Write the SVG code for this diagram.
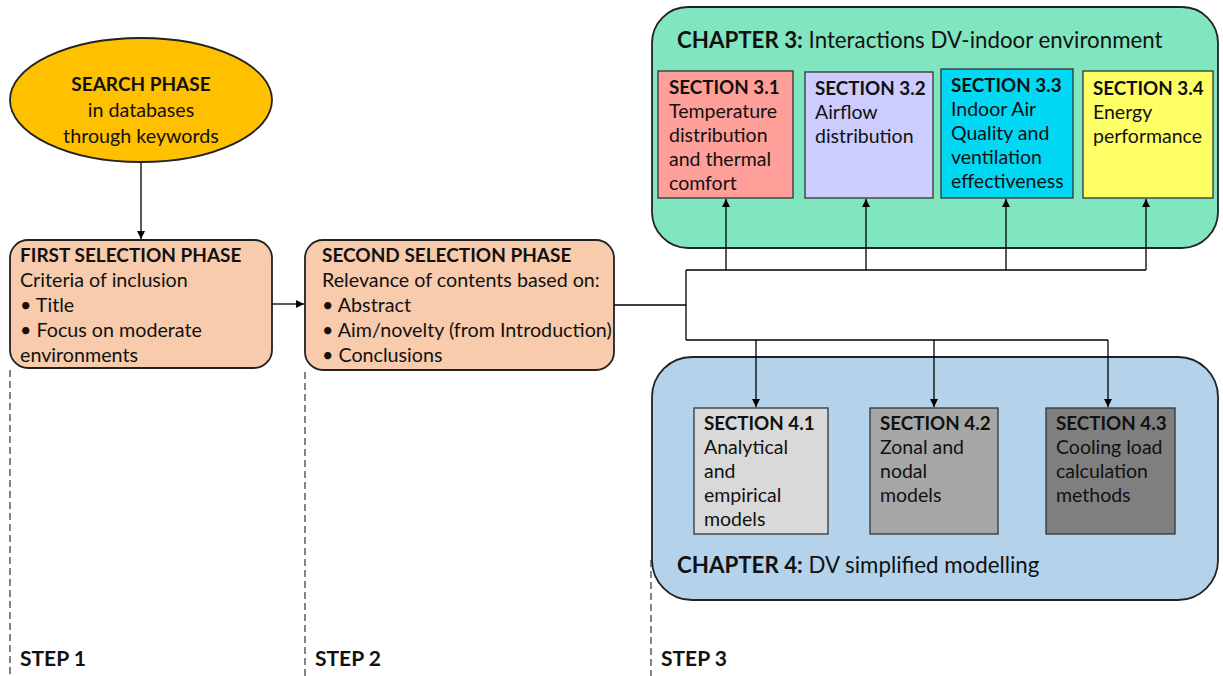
<svg xmlns="http://www.w3.org/2000/svg" width="1223" height="676" viewBox="0 0 1223 676">
<defs>
<marker id="ah" viewBox="0 0 10 10" refX="10" refY="5" markerWidth="8" markerHeight="8" markerUnits="userSpaceOnUse" orient="auto"><path d="M0,0 L10,5 L0,10 z" fill="#000"/></marker>
<style>
text{font-family:Lato,"Noto Sans",sans-serif;fill:#111;}
.t{font-size:19.7px;}
.t.b{font-size:19px;}
.b{font-weight:bold;}
.s{font-size:19.5px;}
.s.b{font-size:18.8px;}
.ch{font-size:22.3px;}
.st{font-size:21px;font-weight:bold;}
.box{stroke:#222;stroke-width:1.8;}
.sec{stroke:#333;stroke-width:1.3;}
.ln{stroke:#000;stroke-width:1.3;fill:none;}
.dash{stroke:#333;stroke-width:1.2;stroke-dasharray:7,4;fill:none;}
</style>
</defs>
<rect width="1223" height="676" fill="#fff"/>
<g id="steps">
<line class="dash" x1="10" y1="370" x2="10" y2="676"/>
<line class="dash" x1="305" y1="372" x2="305" y2="676"/>
<line class="dash" x1="651" y1="560" x2="651" y2="676"/>
<text class="st" x="20" y="666">STEP 1</text>
<text class="st" x="315" y="666">STEP 2</text>
<text class="st" x="661" y="666">STEP 3</text>
</g>
<g id="search">
<ellipse cx="141" cy="100" rx="131" ry="62" fill="#ffc000" class="box"/>
<text class="t b" text-anchor="middle" x="141" y="91">SEARCH PHASE</text>
<text class="t" text-anchor="middle" x="141" y="117">in databases</text>
<text class="t" text-anchor="middle" x="141" y="143">through keywords</text>
</g>
<g id="first">
<rect x="10" y="240" width="262" height="128" rx="18" fill="#f8cbad" class="box"/>
<text class="t b" x="20" y="262">FIRST SELECTION PHASE</text>
<text class="t" x="20" y="287">Criteria of inclusion</text>
<text class="t" x="20" y="312">• Title</text>
<text class="t" x="20" y="337">• Focus on moderate</text>
<text class="t" x="20" y="362">environments</text>
</g>
<g id="second">
<rect x="305" y="240" width="309" height="130" rx="18" fill="#f8cbad" class="box"/>
<text class="t b" x="322" y="262">SECOND SELECTION PHASE</text>
<text class="t" x="322" y="287">Relevance of contents based on:</text>
<text class="t" x="322" y="312">• Abstract</text>
<text class="t" x="322" y="337">• Aim/novelty (from Introduction)</text>
<text class="t" x="322" y="362">• Conclusions</text>
</g>
<g id="chapter3">
<rect x="652" y="7" width="566" height="241" rx="36" fill="#80e6c0" class="box"/>
<text class="ch" x="677" y="48"><tspan class="b">CHAPTER 3:</tspan> Interactions DV-indoor environment</text>
</g>
<g id="sec31">
<rect x="658" y="71" width="135" height="127" fill="#ff9f99" class="sec"/>
<text class="s b" x="669" y="94">SECTION 3.1</text>
<text class="s" x="669" y="118">Temperature</text>
<text class="s" x="669" y="142">distribution</text>
<text class="s" x="669" y="166">and thermal</text>
<text class="s" x="669" y="190">comfort</text>
</g>
<g id="sec32">
<rect x="805" y="72" width="128" height="126" fill="#ccccff" class="sec"/>
<text class="s b" x="815" y="95">SECTION 3.2</text>
<text class="s" x="815" y="119">Airflow</text>
<text class="s" x="815" y="143">distribution</text>
</g>
<g id="sec33">
<rect x="941" y="69" width="132" height="129" fill="#00d8f4" class="sec"/>
<text class="s b" x="951" y="92">SECTION 3.3</text>
<text class="s" x="951" y="116">Indoor Air</text>
<text class="s" x="951" y="140">Quality and</text>
<text class="s" x="951" y="164">ventilation</text>
<text class="s" x="951" y="188">effectiveness</text>
</g>
<g id="sec34">
<rect x="1083" y="71" width="130" height="127" fill="#ffff66" class="sec"/>
<text class="s b" x="1093" y="95">SECTION 3.4</text>
<text class="s" x="1093" y="119">Energy</text>
<text class="s" x="1093" y="143">performance</text>
</g>
<g id="chapter4">
<rect x="652" y="357" width="566" height="243" rx="40" fill="#b4d3ea" class="box"/>
<text class="ch" x="677" y="573"><tspan class="b">CHAPTER 4:</tspan> DV simplified modelling</text>
</g>
<g id="sec41">
<rect x="694" y="408" width="134" height="126" fill="#d9d9d9" class="sec"/>
<text class="s b" x="704" y="430">SECTION 4.1</text>
<text class="s" x="704" y="454">Analytical</text>
<text class="s" x="704" y="478">and</text>
<text class="s" x="704" y="502">empirical</text>
<text class="s" x="704" y="526">models</text>
</g>
<g id="sec42">
<rect x="870" y="408" width="128" height="126" fill="#a6a6a6" class="sec"/>
<text class="s b" x="880" y="430">SECTION 4.2</text>
<text class="s" x="880" y="454">Zonal and</text>
<text class="s" x="880" y="478">nodal</text>
<text class="s" x="880" y="502">models</text>
</g>
<g id="sec43">
<rect x="1046" y="408" width="129" height="126" fill="#7f7f7f" class="sec"/>
<text class="s b" x="1056" y="430">SECTION 4.3</text>
<text class="s" x="1056" y="454">Cooling load</text>
<text class="s" x="1056" y="478">calculation</text>
<text class="s" x="1056" y="502">methods</text>
</g>
<g id="connectors">
<line class="ln" x1="141" y1="163" x2="141" y2="239" marker-end="url(#ah)"/>
<line class="ln" x1="272" y1="304" x2="304" y2="304" marker-end="url(#ah)"/>
<line class="ln" x1="614" y1="305" x2="686" y2="305"/>
<line class="ln" x1="686" y1="270" x2="686" y2="340"/>
<line class="ln" x1="686" y1="270" x2="1146" y2="270"/>
<line class="ln" x1="686" y1="340" x2="1108" y2="340"/>
<line class="ln" x1="726" y1="270" x2="726" y2="199" marker-end="url(#ah)"/>
<line class="ln" x1="866" y1="270" x2="866" y2="199" marker-end="url(#ah)"/>
<line class="ln" x1="1006" y1="270" x2="1006" y2="199" marker-end="url(#ah)"/>
<line class="ln" x1="1146" y1="270" x2="1146" y2="199" marker-end="url(#ah)"/>
<line class="ln" x1="756" y1="340" x2="756" y2="407" marker-end="url(#ah)"/>
<line class="ln" x1="934" y1="340" x2="934" y2="407" marker-end="url(#ah)"/>
<line class="ln" x1="1108" y1="340" x2="1108" y2="407" marker-end="url(#ah)"/>
</g>
</svg>
